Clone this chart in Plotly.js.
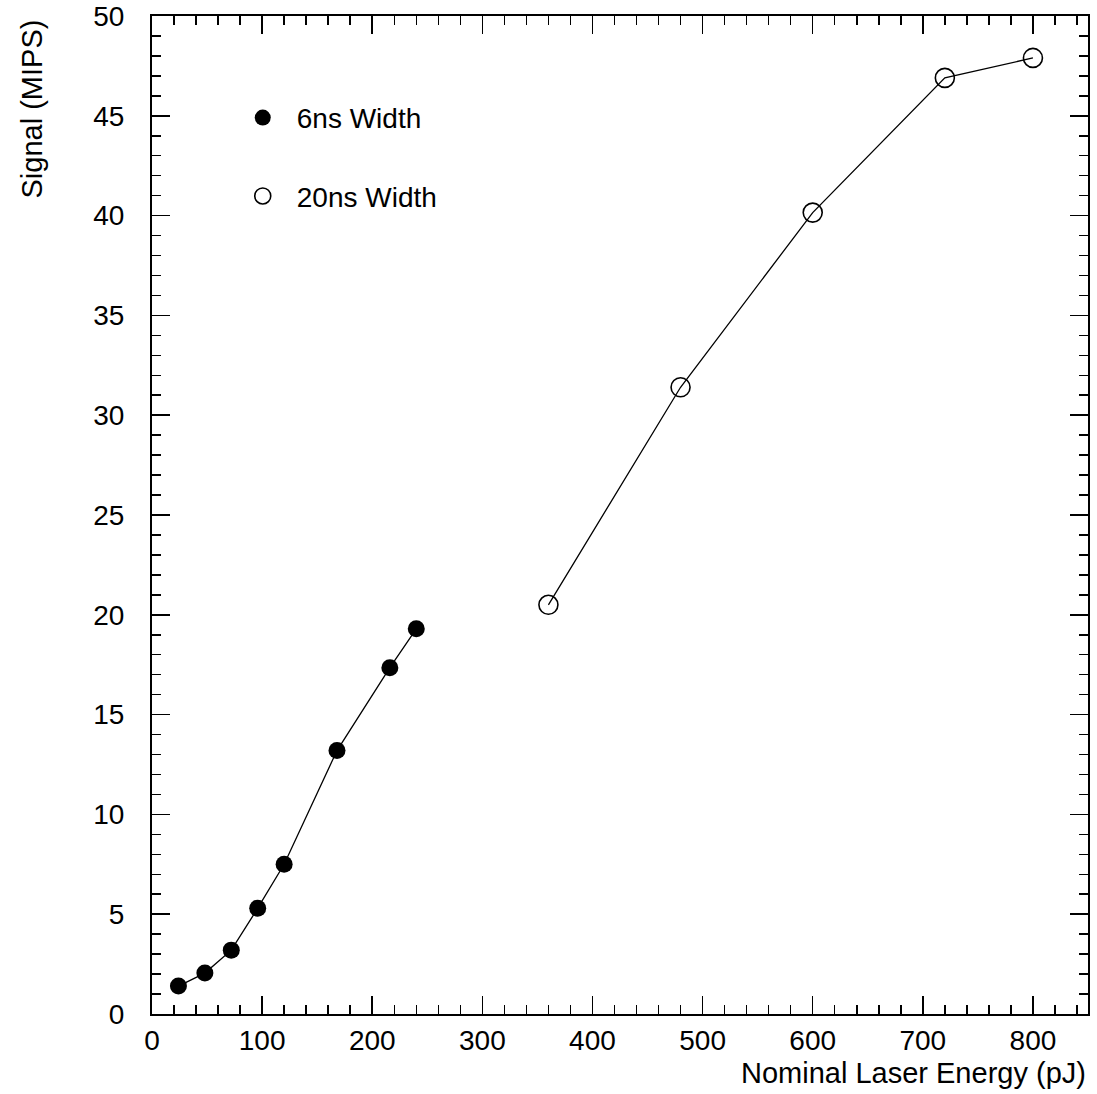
<!DOCTYPE html>
<html>
<head>
<meta charset="utf-8">
<script src="https://cdn.plot.ly/plotly-3.0.1.min.js"></script>
<style>html,body{margin:0;padding:0;background:#fff;}#chart{width:1097px;height:1094px;}</style>
</head>
<body>
<div id="chart"></div>
<script>
// Data
const energy6ns = [24, 48, 72, 96, 120, 168, 216, 240];
const signal6ns = [1.4, 2.05, 3.2, 5.3, 7.5, 13.2, 17.35, 19.3];
const energy20ns = [360, 480, 600, 720, 800];
const signal20ns = [20.5, 31.4, 40.15, 46.9, 47.9];
const seriesNames = ["6ns Width", "20ns Width"];
const xTitle = "Nominal Laser Energy (pJ)";
const yTitle = "Signal (MIPS)";

const FONT = "Liberation Sans, Arial, Helvetica, sans-serif";
const TICKSIZE = 28;
const TITLESIZE = 29;

const traces = [
  // connecting lines (not in legend)
  {x: energy6ns, y: signal6ns, mode: "lines", type: "scatter", showlegend: false,
   line: {color: "#000", width: 1.3}, hoverinfo: "skip"},
  {x: energy20ns, y: signal20ns, mode: "lines", type: "scatter", showlegend: false,
   line: {color: "#000", width: 1.3}, hoverinfo: "skip"},
  // markers (in legend)
  {x: energy6ns, y: signal6ns, name: seriesNames[0], legendgroup: "a",
   mode: "markers", type: "scatter",
   marker: {symbol: "circle", size: 17, color: "#000"}},
  {x: energy20ns, y: signal20ns, name: seriesNames[1], legendgroup: "b",
   mode: "markers", type: "scatter",
   marker: {symbol: "circle-open", size: 19, color: "#000", line: {width: 1.6, color: "#000"}}}
];

const axisCommon = {
  showgrid: false, zeroline: false,
  showline: true, linecolor: "#000", linewidth: 2, mirror: "allticks",
  ticks: "inside", ticklen: 18, tickwidth: 1.5, tickcolor: "#000",
  tickfont: {family: FONT, size: TICKSIZE, color: "#000"}
};

const layout = {
  width: 1097, height: 1094,
  margin: {l: 152, r: 9, t: 16, b: 80},
  paper_bgcolor: "#fff", plot_bgcolor: "#fff",
  font: {family: FONT, color: "#000"},
  showlegend: true,
  legend: {
    x: 0.082, y: 0.923, xanchor: "left", yanchor: "top",
    bgcolor: "rgba(0,0,0,0)", borderwidth: 0,
    font: {family: FONT, size: TICKSIZE, color: "#000"},
    traceorder: "grouped", tracegroupgap: 39, itemwidth: 58
  },
  xaxis: Object.assign({}, axisCommon, {
    range: [0, 850], dtick: 100, tick0: 0, ticklabelstandoff: 0,
    minor: {dtick: 20, ticks: "inside", ticklen: 9, tickwidth: 1.5, tickcolor: "#000"}
  }),
  yaxis: Object.assign({}, axisCommon, {
    range: [0, 50], dtick: 5, tick0: 0, ticklabelstandoff: 20,
    minor: {dtick: 1, ticks: "inside", ticklen: 9, tickwidth: 1.5, tickcolor: "#000"}
  }),
  annotations: [
    {text: xTitle, xref: "paper", yref: "paper", x: 1, y: 0, xanchor: "right", yanchor: "top",
     yshift: -41, xshift: 0, showarrow: false, font: {family: FONT, size: TITLESIZE, color: "#000"}},
    {text: yTitle, xref: "paper", yref: "paper", x: 0, y: 1, xanchor: "center", yanchor: "top",
     xshift: -121, yshift: -2, textangle: -90, showarrow: false, font: {family: FONT, size: TITLESIZE, color: "#000"}}
  ]
};

Plotly.newPlot("chart", traces, layout, {displayModeBar: false, staticPlot: true});
</script>
</body>
</html>
